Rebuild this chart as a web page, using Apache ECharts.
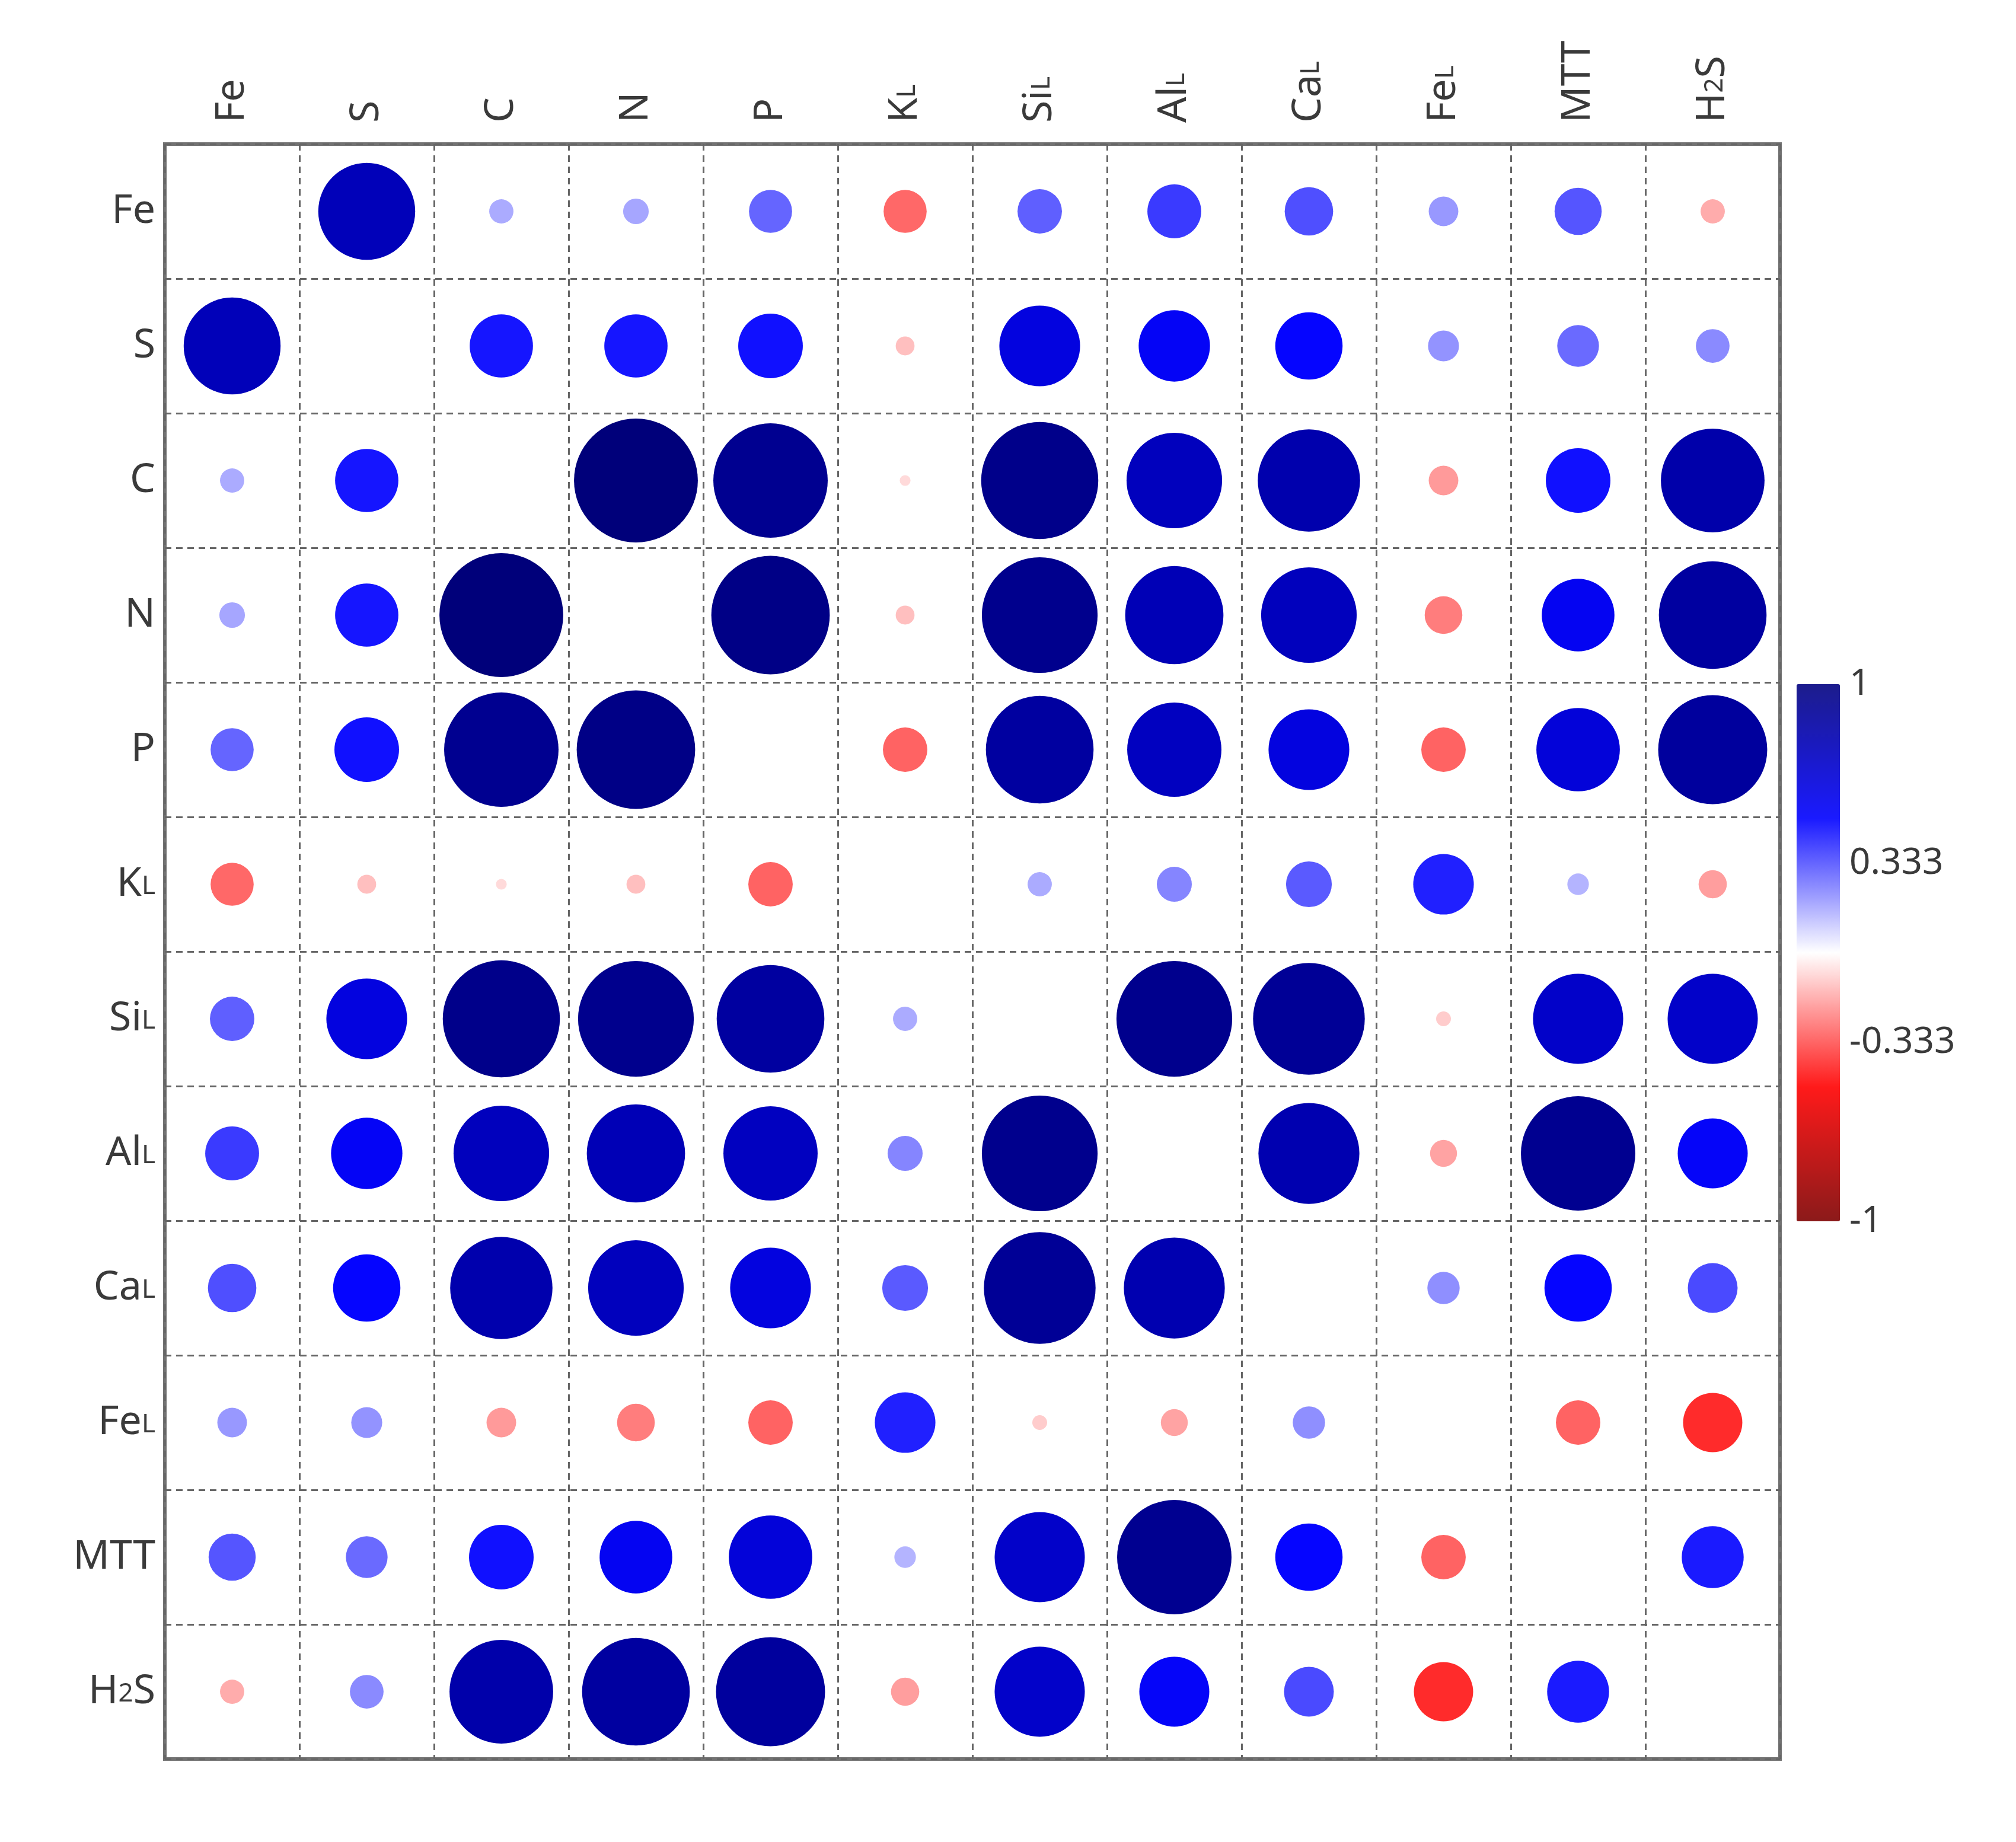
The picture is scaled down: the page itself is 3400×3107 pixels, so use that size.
<!DOCTYPE html>
<html>
<head>
<meta charset="utf-8">
<script src="https://cdn.jsdelivr.net/npm/echarts@6/dist/echarts.min.js"></script>
<style>
  html, body { margin: 0; padding: 0; background: #fff; }
  #chart { width: 3400px; height: 3107px; }
</style>
</head>
<body>
<div id="chart"></div>
<script>
// variables, same order on both axes
var labels = ['Fe', 'S', 'C', 'N', 'P', 'KL', 'SiL', 'AlL', 'CaL', 'FeL', 'MTT', 'H2S'];

// correlation rows (diagonal left empty)
var rowFe  = [null, 0.72, 0.18, 0.19, 0.32, -0.32, 0.33, 0.40, 0.36, 0.22, 0.35, -0.18];
var rowS   = [0.72, null, 0.47, 0.47, 0.48, -0.14, 0.60, 0.53, 0.50, 0.23, 0.31, 0.25];
var rowC   = [0.18, 0.47, null, 0.92, 0.85, -0.08, 0.87, 0.71, 0.76, -0.22, 0.48, 0.77];
var rowN   = [0.19, 0.47, 0.92, null, 0.88, -0.14, 0.86, 0.73, 0.71, -0.28, 0.54, 0.80];
var rowP   = [0.32, 0.48, 0.85, 0.88, null, -0.33, 0.80, 0.70, 0.60, -0.33, 0.62, 0.81];
var rowKL  = [-0.32, -0.14, -0.08, -0.14, -0.33, null, 0.18, 0.26, 0.34, 0.45, 0.16, -0.21];
var rowSiL = [0.33, 0.60, 0.87, 0.86, 0.80, 0.18, null, 0.86, 0.83, -0.11, 0.67, 0.67];
var rowAlL = [0.40, 0.53, 0.71, 0.73, 0.70, 0.26, 0.86, null, 0.75, -0.20, 0.85, 0.52];
var rowCaL = [0.36, 0.50, 0.76, 0.71, 0.60, 0.34, 0.83, 0.75, null, 0.24, 0.50, 0.37];
var rowFeL = [0.22, 0.23, -0.22, -0.28, -0.33, 0.45, -0.11, -0.20, 0.24, null, -0.33, -0.44];
var rowMTT = [0.35, 0.31, 0.48, 0.54, 0.62, 0.16, 0.67, 0.85, 0.50, -0.33, null, 0.46];
var rowH2S = [-0.18, 0.25, 0.77, 0.80, 0.81, -0.21, 0.67, 0.52, 0.37, -0.44, 0.46, null];

var colorbarTicks = [1, 0.333, -0.333, -1];

(function () {
    var rows = [rowFe, rowS, rowC, rowN, rowP, rowKL, rowSiL, rowAlL, rowCaL, rowFeL, rowMTT, rowH2S];
    var data = [];
    rows.forEach(function (row, i) {
        row.forEach(function (v, j) {
            if (v !== null) data.push([j, i, v]);
        });
    });

    var GRID_LEFT = 278, GRID_TOP = 243, GRID_SIZE = 2724;
    var CELL = GRID_SIZE / labels.length;
    var FONT = 'Noto Sans';
    var textColor = '#3a3a3a';

    // names with a small trailing L or a subscript 2
    function richName(n) {
        if (n === 'H2S') return '{n|H}{s|2}{n|S}';
        if (/L$/.test(n)) return '{n|' + n.slice(0, -1) + '}{s|L}';
        return '{n|' + n + '}';
    }
    var rich = {
        n: { fontFamily: FONT, fontSize: 68, color: textColor, verticalAlign: 'bottom' },
        s: { fontFamily: FONT, fontSize: 44, color: textColor, verticalAlign: 'bottom', padding: [0, 0, 8, 0] }
    };
    var gridLine = { show: true, lineStyle: { color: '#666666', width: 3, type: [11, 8] } };

    var el = document.getElementById('chart');
    var chart = echarts.init(el, null, { renderer: 'canvas' });
    chart.setOption({
        backgroundColor: '#ffffff',
        animation: false,
        grid: [
            { left: GRID_LEFT, top: GRID_TOP, width: GRID_SIZE, height: GRID_SIZE,
              show: true, borderColor: '#727272', borderWidth: 6, backgroundColor: 'transparent' },
            { left: 3030, top: 1154, width: 73, height: 906 }
        ],
        xAxis: [
            {
                type: 'category',
                data: labels,
                position: 'top',
                gridIndex: 0,
                axisLine: { show: false },
                axisTick: { show: false },
                axisLabel: { rotate: -90, margin: 36, formatter: richName, rich: rich },
                splitLine: gridLine
            },
            { type: 'value', gridIndex: 1, show: false, min: 0, max: 1 }
        ],
        yAxis: [
            {
                type: 'category',
                data: labels,
                inverse: true,
                gridIndex: 0,
                axisLine: { show: false },
                axisTick: { show: false },
                axisLabel: { margin: 16, formatter: richName, rich: rich },
                splitLine: gridLine
            },
            {
                type: 'value',
                gridIndex: 1,
                min: -1,
                max: 1,
                position: 'right',
                axisLine: { show: false },
                axisTick: { show: false },
                splitLine: { show: false },
                axisLabel: {
                    customValues: colorbarTicks,
                    margin: 16,
                    fontFamily: FONT,
                    fontSize: 62,
                    color: textColor,
                    formatter: function (v) { return String(v); }
                }
            }
        ],
        visualMap: [
            {
                type: 'continuous',
                show: false,
                min: -1,
                max: 1,
                dimension: 2,
                seriesIndex: 0,
                inRange: {
                    color: ['#6e0000', '#b00000', '#ff0c0c', '#ff8c8c', '#ffffff',
                            '#8a8aff', '#0505ff', '#0000b0', '#000060']
                }
            },
            {
                type: 'continuous',
                show: true,
                min: -1,
                max: 1,
                seriesIndex: 1,
                calculable: false,
                hoverLink: false,
                orient: 'vertical',
                left: 3030,
                top: 1154,
                itemWidth: 73,
                itemHeight: 906,
                padding: 0,
                inRange: {
                    color: ['#8b1a1a', '#c41a1a', '#ff1a1a', '#ff8a8a', '#ffffff',
                            '#8a8aff', '#1a1aff', '#1a1ac4', '#1c1c8c']
                }
            }
        ],
        series: [
            {
                type: 'scatter',
                xAxisIndex: 0,
                yAxisIndex: 0,
                data: data,
                symbol: 'circle',
                symbolSize: function (d) { return Math.abs(d[2]) * CELL; },
                itemStyle: { opacity: 1 },
                emphasis: { disabled: true }
            },
            { type: 'scatter', xAxisIndex: 1, yAxisIndex: 1, data: [] }
        ]
    });
})();
</script>
</body>
</html>
